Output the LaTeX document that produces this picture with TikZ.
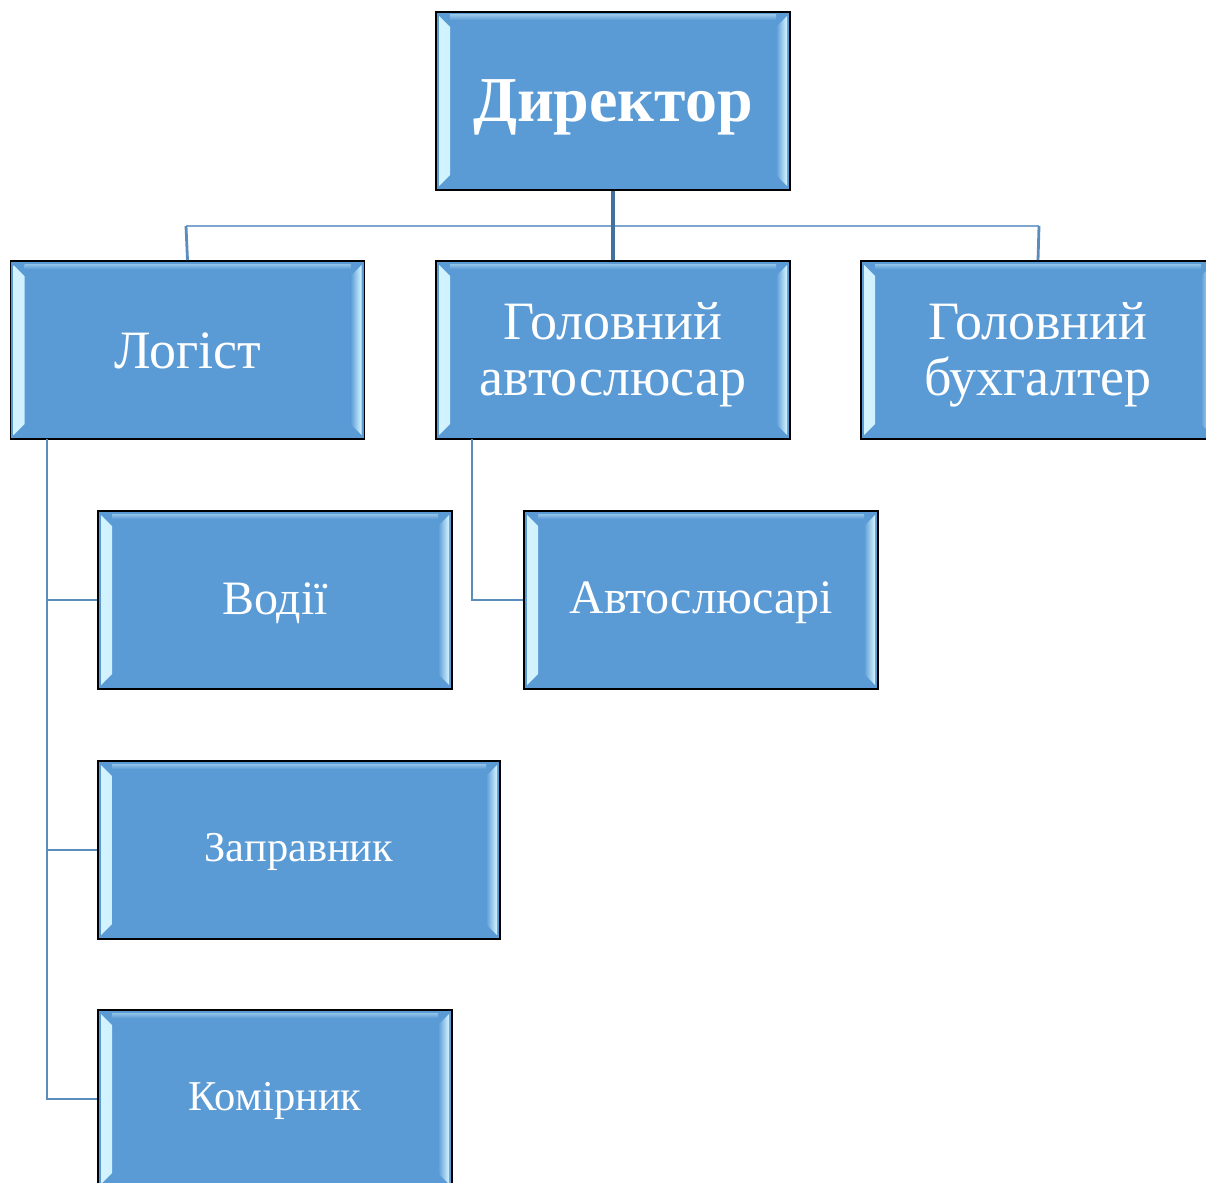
\documentclass[tikz,border=0pt]{standalone}
\usepackage{fontspec}
\setmainfont{Liberation Serif}
\definecolor{boxblue}{HTML}{5B9BD5}
\definecolor{bevel}{HTML}{D4F4FF}
\definecolor{conn}{HTML}{5A8CBC}
\definecolor{conndark}{HTML}{41719C}
\definecolor{connlight}{HTML}{7EA7CF}
\tikzset{
  box/.style={draw=black, line width=1.6pt, fill=boxblue,
    minimum width=354pt, minimum height=178pt, inner sep=0pt,
    path picture={
      \shade[left color=bevel, right color=boxblue]
        ([shift={(3pt,-4pt)}]path picture bounding box.north west) --
        ([shift={(14pt,-15pt)}]path picture bounding box.north west) --
        ([shift={(14pt,15pt)}]path picture bounding box.south west) --
        ([shift={(3pt,4pt)}]path picture bounding box.south west) -- cycle;
      \shade[right color=bevel, left color=boxblue]
        ([shift={(-3pt,-4pt)}]path picture bounding box.north east) --
        ([shift={(-14pt,-15pt)}]path picture bounding box.north east) --
        ([shift={(-14pt,15pt)}]path picture bounding box.south east) --
        ([shift={(-3pt,4pt)}]path picture bounding box.south east) -- cycle;
      \shade[top color=bevel!45!boxblue, bottom color=boxblue]
        ([shift={(14pt,-3pt)}]path picture bounding box.north west) --
        ([shift={(-14pt,-3pt)}]path picture bounding box.north east) --
        ([shift={(-14pt,-8pt)}]path picture bounding box.north east) --
        ([shift={(14pt,-8pt)}]path picture bounding box.north west) -- cycle;
    }},
  txt/.style={text=white, align=center, inner sep=0pt, yshift=-1pt,
    font=\fontsize{54}{56}\selectfont},
  txt2/.style={txt, yshift=-4pt},
  txtm/.style={txt, yshift=-2pt, font=\fontsize{48}{50}\selectfont},
  txts/.style={txt, yshift=-1pt, font=\fontsize{42.5}{46}\selectfont},
  txtb/.style={txt, yshift=-5pt, font=\fontsize{64}{66}\selectfont\bfseries},
  link/.style={draw=conn, line width=2.8pt},
}
\begin{document}
\begin{tikzpicture}[x=1pt,y=1pt]
\useasboundingbox (0,0) rectangle (1206,-1182);
\clip (0,0) rectangle (1206,-1182);
\fill[white] (0,0) rectangle (1206,-1182);
% connectors
\coordinate (hl) at (186,-226);
\coordinate (hr) at (1039,-226);
\coordinate (vl) at (47,-439);
\coordinate (vm) at (472,-439);
\draw[draw=connlight, line width=2.8pt] (hl) -- (hr);
\node[box, label={[txt]center:Логіст}] (log) at (187.5,-350) {};
\node[box, label={[txt2]center:Головний\\автослюсар}] (mech) at (613,-350) {};
\node[box, label={[txt2]center:Головний\\бухгалтер}] (acc) at (1038,-350) {};
\node[box, label={[txtb]center:Директор}] (dir) at (613,-101) {};
\node[box, label={[txtm]center:Водії}] (drv) at (275,-600) {};
\node[box, label={[txtm]center:Автослюсарі}] (mechs) at (701,-600) {};
\node[box, minimum width=402pt, label={[txts]center:Заправник}] (fuel) at (299,-850) {};
\node[box, label={[txts]center:Комірник}] (store) at (275,-1099) {};
\draw[draw=conndark, line width=3.6pt] (dir.south) -- (mech.north);
\draw[link] (hl) -- (log.north);
\draw[link] (hr) -- (acc.north);
\draw[link] (vl) |- (drv.west);
\draw[link] (vl) |- (fuel.west);
\draw[link] (vl) |- (store.west);
\draw[link] (vm) |- (mechs.west);
\end{tikzpicture}
\end{document}
